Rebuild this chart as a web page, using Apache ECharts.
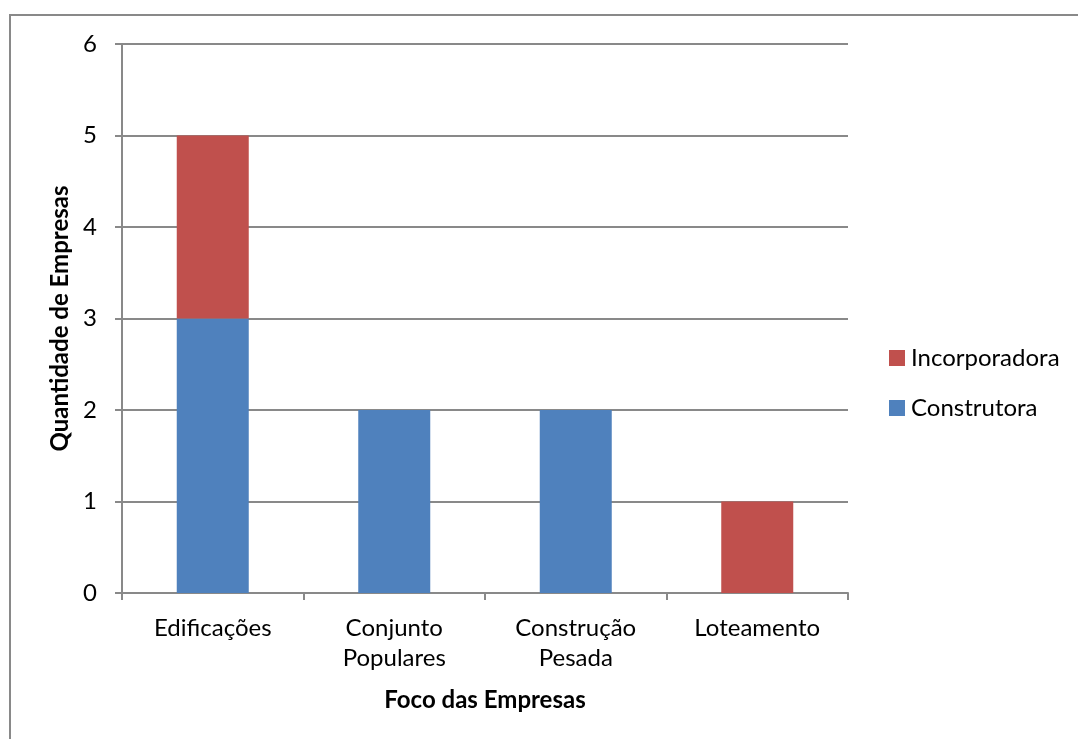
<!DOCTYPE html>
<html>
<head>
<meta charset="utf-8">
<script src="https://cdn.jsdelivr.net/npm/echarts@6/dist/echarts.min.js"></script>
<style>
  html, body { margin: 0; padding: 0; background: #fff; }
  #chart { width: 1078px; height: 739px; }
</style>
</head>
<body>
<div id="chart"></div>
<script>
// Company focus categories and the number of firms per type
const categories = ['Edificações', 'Conjunto\nPopulares', 'Construção\nPesada', 'Loteamento'];
const construtora = [3, 2, 2, 0];
const incorporadora = [2, 0, 0, 1];
const yTicks = [0, 1, 2, 3, 4, 5, 6];

const FONT = 'Lato, "Open Sans", sans-serif';
const GRID_COLOR = '#898989';

const chart = echarts.init(document.getElementById('chart'));
chart.setOption({
  backgroundColor: '#ffffff',
  animation: false,
  graphic: [{
    type: 'rect',
    shape: { x: 10, y: 15, width: 1200, height: 900 },
    style: { fill: 'none', stroke: '#898989', lineWidth: 2 },
    silent: true
  }],
  grid: { left: 122, right: 230, top: 44, bottom: 146 },
  legend: {
    orient: 'vertical',
    left: 884,
    top: 341,
    itemWidth: 16,
    itemHeight: 16,
    itemGap: 26,
    icon: 'rect',
    data: ['Incorporadora', 'Construtora'],
    textStyle: { fontFamily: FONT, fontSize: 24, color: '#000', padding: [0, 0, 0, 1] }
  },
  xAxis: {
    type: 'category',
    data: categories,
    name: 'Foco das Empresas',
    nameLocation: 'middle',
    nameGap: 95,
    nameTextStyle: { fontFamily: FONT, fontSize: 24, fontWeight: 'bold', color: '#000' },
    axisLine: { lineStyle: { color: GRID_COLOR, width: 2 } },
    axisTick: { show: true, length: 7, lineStyle: { color: GRID_COLOR, width: 2 } },
    axisLabel: { fontFamily: FONT, fontSize: 24, color: '#000', margin: 20, lineHeight: 30 }
  },
  yAxis: {
    type: 'value',
    min: yTicks[0],
    max: yTicks[yTicks.length - 1],
    interval: 1,
    name: 'Quantidade de Empresas',
    nameLocation: 'middle',
    nameGap: 48,
    nameTextStyle: { fontFamily: FONT, fontSize: 24, fontWeight: 'bold', color: '#000' },
    axisLine: { show: true, lineStyle: { color: GRID_COLOR, width: 2 } },
    axisTick: { show: true, length: 7, lineStyle: { color: GRID_COLOR, width: 2 } },
    axisLabel: { fontFamily: FONT, fontSize: 24, color: '#000', margin: 25 },
    splitLine: { show: true, lineStyle: { color: GRID_COLOR, width: 2 } }
  },
  series: [
    {
      name: 'Construtora',
      type: 'bar',
      stack: 'total',
      barWidth: 72,
      data: construtora,
      itemStyle: { color: '#4F81BD' }
    },
    {
      name: 'Incorporadora',
      type: 'bar',
      stack: 'total',
      barWidth: 72,
      data: incorporadora,
      itemStyle: { color: '#C0504D' }
    }
  ]
});
</script>
</body>
</html>
